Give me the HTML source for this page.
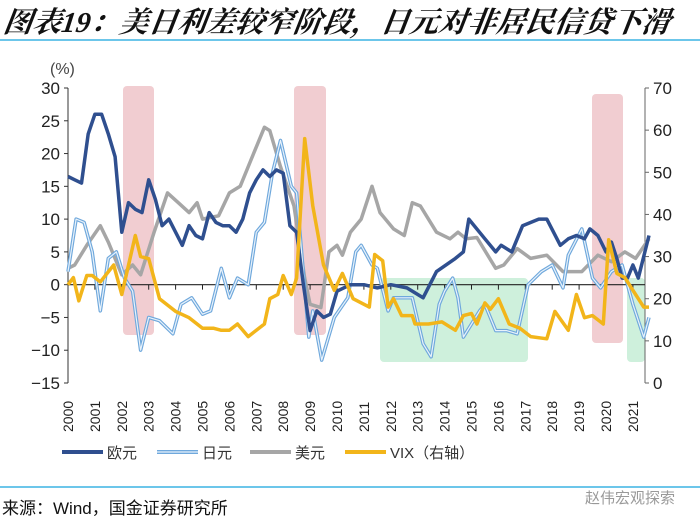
<!DOCTYPE html>
<html><head><meta charset="utf-8">
<style>
html,body{margin:0;padding:0;background:#fff;}
#wrap{position:relative;width:700px;height:520px;overflow:hidden;font-family:"Liberation Sans","Noto Sans CJK SC",sans-serif;}
#title{position:absolute;left:4px;top:0px;font-family:"Liberation Serif","Noto Serif CJK SC",serif;font-style:italic;font-weight:bold;font-size:29px;color:#111;white-space:nowrap;transform:skewX(-8deg);transform-origin:left;}
#src{position:absolute;left:2px;top:494px;font-size:17px;color:#111;}
#wm{position:absolute;left:585px;top:487px;font-size:15px;color:#999;}
</style></head><body>
<div id="wrap">
<div id="title">图表19：美日利差较窄阶段，日元对非居民信贷下滑</div>
<svg id="chart" width="700" height="520" style="position:absolute;left:0;top:0"></svg>
<div id="src">来源：Wind，国金证券研究所</div>
<div id="wm">赵伟宏观探索</div>
</div>
<script>
const years=["2000","2001","2002","2003","2004","2005","2006","2007","2008","2009","2010","2011","2012","2013","2014","2015","2016","2017","2018","2019","2020","2021"];
const leftTicks=[30,25,20,15,10,5,0,-5,-10,-15];
const rightTicks=[70,60,50,40,30,20,10,0];
const eurT=[0,0.25,0.5,0.75,1,1.25,1.5,1.75,2,2.25,2.5,2.75,3,3.25,3.5,3.75,4,4.25,4.5,4.75,5,5.25,5.5,5.75,6,6.25,6.5,6.75,7,7.25,7.5,7.75,8,8.25,8.5,8.75,9,9.25,9.5,9.75,10,10.5,11,11.5,12,12.6,13.2,13.7,14.4,14.7,14.9,15.5,15.9,16.1,16.5,16.9,17.5,17.8,18.3,18.6,18.9,19.2,19.4,19.7,20.0,20.2,20.4,20.6,20.8,21.0,21.2,21.6];
const eurV=[16.5,16,15.5,23,26,26,23,19.5,8,12.5,11.5,11,16,13,9,10,8,6,9,7.5,7,11,9.5,9,9,8,10,14,16,17.5,16.5,17.5,17,9,8,0,-7,-4,-5,-4.5,-1,0,0,-0.5,0,-0.5,-2,2,4,5,10,7,5,6,5,9,10,10,6,7,7.5,7,8.5,7.5,5,6.5,4,1,1,3,1,7.5];
const jpyT=[0,0.3,0.6,0.9,1.2,1.5,1.8,2.1,2.4,2.7,3.0,3.4,3.9,4.2,4.6,5.0,5.3,5.7,6.0,6.3,6.7,7.0,7.3,7.6,7.9,8.3,8.5,8.95,9.1,9.43,9.9,10.4,10.7,10.9,11.3,11.5,11.9,12.1,12.8,13.2,13.5,13.8,14.0,14.3,14.5,14.7,15.0,15.3,15.5,15.9,16.3,16.7,17.1,17.6,18.0,18.4,18.6,19.1,19.5,19.8,20.2,20.6,21.0,21.4,21.6];
const jpyV=[2,10,9.5,5,-4,4,5,1,-1,-10,-5,-5.5,-7.5,-3,-2,-4.5,-4,2.5,-2,1,0,8,9.5,17,22,15,14,-8,-4,-11.5,-5,-2,5,6,3,2.5,-4,-2,-2,-9,-11,-3,-1,1,-2,-8,-6,-4,-3,-7,-7,-7.5,0,2,3,-0.5,4.5,8.5,1,-0.5,2,3,-3,-8,-5];
const usdT=[0,0.25,0.7,1.2,1.5,2.0,2.4,2.7,3.2,3.7,4.1,4.5,4.8,5.0,5.6,6.0,6.4,6.8,7.3,7.5,7.9,8.4,8.8,9.0,9.4,9.7,10.0,10.2,10.5,10.9,11.3,11.6,12.1,12.5,12.8,13.1,13.7,14.2,14.5,14.8,15.2,15.9,16.2,16.7,17.2,17.8,18.4,19.1,19.7,20.2,20.7,21.1,21.6];
const usdV=[2.5,3,6,9,6.5,1.5,3,1.5,8,14,12.5,11,12.5,10,10.5,14,15,19,24,23.5,18,12,1,-3,-3.5,5,6,4.5,8,10,15,11,8.5,7.5,12.5,12,8,7,8,7,7.2,2.5,3,5.5,4,4.5,2,2,4.5,3.5,5,4,7];
const vixT=[0,0.2,0.4,0.7,0.9,1.2,1.7,2.0,2.5,2.7,3.0,3.4,4.0,4.5,5.0,5.4,5.7,6.0,6.3,6.7,7.3,7.5,7.8,8.0,8.3,8.5,8.8,9.1,9.5,9.9,10.2,10.6,11.2,11.4,11.7,11.9,12.1,12.4,12.8,12.9,13.4,13.9,14.4,14.7,15.0,15.2,15.5,15.7,16.0,16.4,16.8,17.2,17.8,18.1,18.6,18.9,19.2,19.5,19.9,20.1,20.4,20.7,21.1,21.4,21.6];
const vixV=[23.3,25,19.5,25.5,25.5,24,28,21,35,30,29.5,20,17,15.5,13,13,12.5,12.5,14,11,14,20,21,25.5,21,24.9,58,42,28,22,26,20,18,30.5,29,18,20,16,16,14,14,14.5,12.5,16,16.5,14,19,17.5,20,14,13,11,10.5,17,12.5,21,15.5,16,14,34,26,25,21,18,18];

const NS="http://www.w3.org/2000/svg";
const svg=document.getElementById('chart');
const X0=68,XS=26.9,Y30=88,Y15=383;
function xs(t){return X0+t*XS;}
function yl(v){return Y30+(30-v)*(Y15-Y30)/45;}
function yr(v){return Y15-v*(Y15-Y30)/70;}
function mk(tag,attrs,parent){const e=document.createElementNS(NS,tag);for(const k in attrs)e.setAttribute(k,attrs[k]);(parent||svg).appendChild(e);return e;}

let e;
e=mk('line',{x1:0,y1:40,x2:700,y2:40,stroke:'#3cb3e3','stroke-width':1.5});


e=mk('line',{x1:0,y1:487,x2:700,y2:487,stroke:'#3cb3e3','stroke-width':1.5});



const shades=[[123,86,31,249,'#f0c8cc'],[294,86,32,249,'#f0c8cc'],[592,94,31,249,'#f0c8cc'],[380,278,148,84,'#c9eed8'],[627,278,18,84,'#c9eed8']];
shades.forEach((s,i)=>{const r=mk('rect',{x:s[0],y:s[1],width:s[2],height:s[3],rx:4,fill:s[4],opacity:0.9});

});

e=mk('line',{x1:X0,y1:Y30,x2:X0,y2:Y15,stroke:'#333','stroke-width':1});


e=mk('line',{x1:645,y1:Y30,x2:645,y2:Y15,stroke:'#666','stroke-width':1});


e=mk('line',{x1:X0,y1:yl(0),x2:645,y2:yl(0),stroke:'#222','stroke-width':1.2});


leftTicks.forEach(v=>{mk('line',{x1:X0-4,y1:yl(v),x2:X0,y2:yl(v),stroke:'#333'});
const t=mk('text',{x:X0-8,y:yl(v)+6,'text-anchor':'end','font-size':17,fill:'#222'});t.textContent=(v<0?'\u2212'+(-v):v);

});
rightTicks.forEach(v=>{mk('line',{x1:645,y1:yr(v),x2:649,y2:yr(v),stroke:'#666'});
const t=mk('text',{x:653,y:yr(v)+6,'font-size':17,fill:'#222'});t.textContent=v;

});
e=mk('text',{x:50,y:74,'font-size':16,fill:'#444'});e.textContent='(%)';


years.forEach((y,i)=>{const x=xs(i);
if(i>0)mk('line',{x1:x,y1:yl(0),x2:x,y2:yl(0)+5,stroke:'#222'});
const t=mk('text',{x:0,y:0,'font-size':14,fill:'#222',transform:`translate(${x+5},${432}) rotate(-90)`});t.textContent=y;

});

function path(T,V,yf){return T.map((t,i)=>(i?'L':'M')+xs(t).toFixed(1)+','+yf(V[i]).toFixed(1)).join('');}
e=mk('path',{d:path(usdT,usdV,yl),fill:'none',stroke:'#a6a6a6','stroke-width':3.5,'stroke-linejoin':'round'});


const g=mk('g',{});


mk('path',{d:path(jpyT,jpyV,yl),fill:'none',stroke:'#6fa8dc','stroke-width':3.5,'stroke-linejoin':'round'},g);
mk('path',{d:path(jpyT,jpyV,yl),fill:'none',stroke:'#e8f2fb','stroke-width':1.2,'stroke-linejoin':'round'},g);
e=mk('path',{d:path(eurT,eurV,yl),fill:'none',stroke:'#2f4f8f','stroke-width':3.5,'stroke-linejoin':'round'});


e=mk('path',{d:path(vixT,vixV,yr),fill:'none',stroke:'#f2b51a','stroke-width':3.5,'stroke-linejoin':'round'});



const leg=[['欧元','#2f4f8f',62],['日元','#6fa8dc',157],['美元','#a6a6a6',250],['VIX（右轴）','#f2b51a',345]];
leg.forEach((l,i)=>{const lg=mk('g',{});


mk('line',{x1:l[2],y1:452,x2:l[2]+41,y2:452,stroke:l[1],'stroke-width':4},lg);
if(i==1)mk('line',{x1:l[2],y1:452,x2:l[2]+41,y2:452,stroke:'#e8f2fb','stroke-width':1.2},lg);
const t=mk('text',{x:l[2]+45,y:458,'font-size':15,fill:'#333'},lg);t.textContent=l[0];});
</script>
</body></html>
